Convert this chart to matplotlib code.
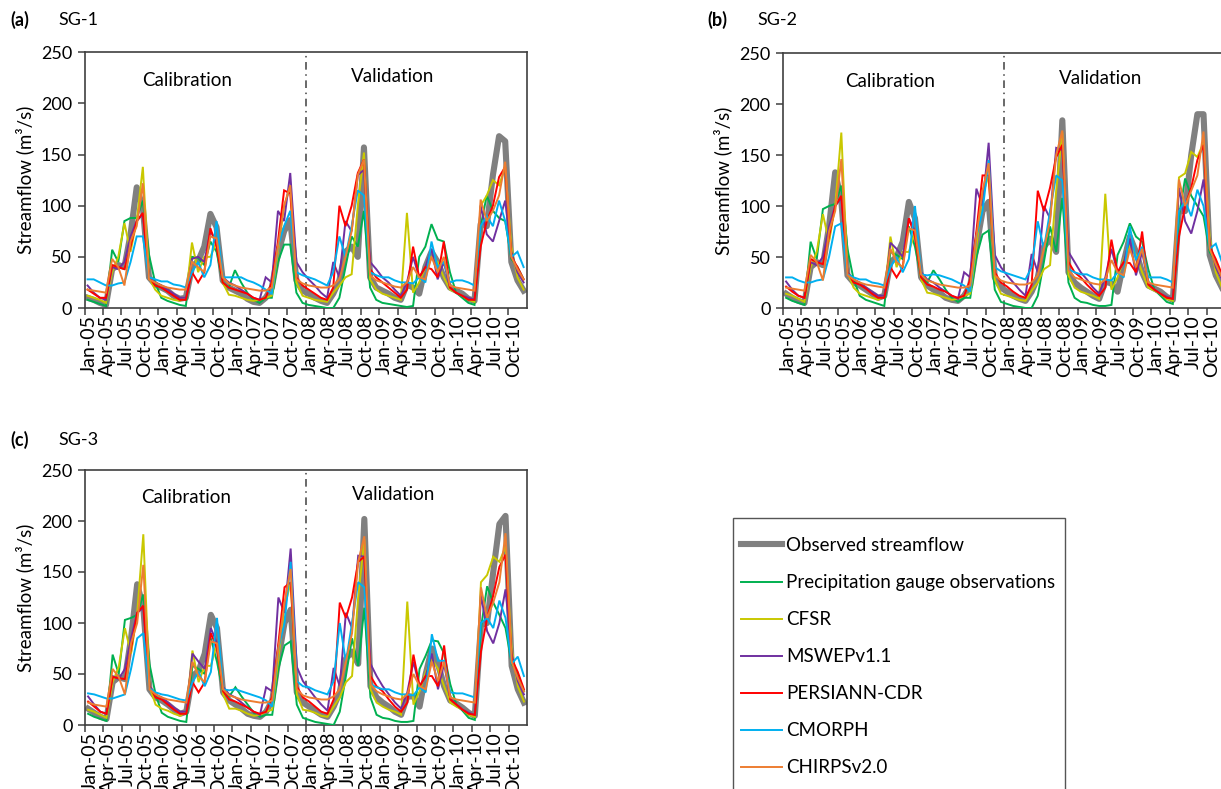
import matplotlib
matplotlib.use("Agg")
import matplotlib.pyplot as plt
from matplotlib.patches import Rectangle
import numpy as np

plt.rcParams['font.family'] = ['Lato', 'DejaVu Sans']

W, H = 1221, 789

months = ['Jan', 'Feb', 'Mar', 'Apr', 'May', 'Jun', 'Jul', 'Aug', 'Sep', 'Oct', 'Nov', 'Dec']
years = ['05', '06', '07', '08', '09', '10']
dates = [f"{m}-{y}" for y in years for m in months]

series_names = ['Observed streamflow', 'Precipitation gauge observations', 'CFSR',
                'MSWEPv1.1', 'PERSIANN-CDR', 'CMORPH', 'CHIRPSv2.0']

# ---------------- SG-1 ----------------
sg1_obs = [10, 8, 5, 3, 38, 42, 40, 72, 118, 98, 30, 23,
           20, 17, 12, 9, 10, 40, 46, 60, 92, 79, 27, 20,
           17, 14, 9, 6, 5, 10, 20, 53, 75, 86, 27, 17,
           14, 10, 7, 5, 14, 27, 55, 60, 50, 157, 30, 20,
           17, 14, 10, 8, 23, 20, 14, 40, 55, 45, 30, 20,
           17, 14, 9, 7, 82, 80, 130, 168, 163, 45, 27, 17]
sg1_gauge = [8, 6, 4, 2, 57, 45, 85, 88, 88, 105, 52, 25,
             10, 7, 5, 3, 2, 50, 49, 42, 65, 55, 25, 20,
             37, 25, 15, 8, 5, 10, 10, 45, 62, 62, 15, 5,
             3, 2, 1, 0, 0, 10, 40, 70, 60, 95, 20, 8,
             5, 4, 3, 2, 1, 2, 50, 60, 82, 67, 65, 35,
             15, 10, 5, 3, 80, 110, 95, 88, 85, 48, 40, 28]
sg1_cfsr = [12, 10, 8, 5, 35, 50, 83, 55, 85, 138, 30, 18,
            12, 10, 8, 7, 10, 64, 35, 50, 50, 65, 25, 13,
            12, 10, 8, 7, 8, 10, 12, 55, 100, 118, 25, 12,
            10, 8, 7, 6, 15, 22, 30, 33, 100, 152, 28, 18,
            14, 12, 10, 8, 93, 15, 25, 40, 50, 45, 30, 18,
            15, 12, 8, 6, 100, 110, 125, 120, 138, 60, 30, 18]
sg1_mswep = [22, 15, 10, 8, 40, 38, 45, 70, 85, 92, 30, 25,
             22, 18, 14, 10, 10, 48, 50, 45, 75, 65, 30, 25,
             22, 18, 14, 10, 8, 30, 25, 95, 85, 132, 45, 35,
             28, 22, 15, 10, 45, 30, 85, 75, 130, 135, 45, 38,
             30, 25, 18, 12, 25, 50, 30, 40, 58, 28, 45, 20,
             15, 12, 10, 8, 100, 72, 65, 85, 105, 55, 35, 25]
sg1_persiann = [18, 14, 10, 10, 42, 40, 38, 60, 85, 93, 30, 22,
                20, 16, 12, 8, 8, 35, 25, 35, 78, 60, 25, 20,
                18, 16, 14, 10, 8, 10, 25, 65, 115, 112, 30, 22,
                18, 14, 10, 8, 20, 100, 80, 100, 132, 145, 38, 30,
                25, 20, 15, 10, 18, 60, 30, 40, 38, 30, 65, 20,
                15, 12, 8, 8, 60, 85, 100, 128, 138, 50, 40, 28]
sg1_cmorph = [28, 28, 25, 22, 22, 24, 25, 45, 70, 70, 30, 28,
              26, 26, 23, 22, 20, 35, 45, 30, 42, 85, 30, 30,
              30, 30, 27, 25, 22, 18, 14, 60, 80, 95, 35, 32,
              30, 28, 25, 22, 35, 70, 50, 80, 115, 110, 35, 32,
              30, 30, 27, 25, 25, 24, 30, 25, 65, 40, 45, 25,
              27, 27, 25, 22, 80, 90, 80, 105, 85, 50, 55, 40]
sg1_chirps = [18, 17, 16, 15, 48, 40, 22, 65, 80, 122, 28, 25,
              22, 20, 19, 18, 18, 45, 40, 35, 70, 68, 30, 24,
              22, 20, 19, 18, 17, 17, 20, 60, 100, 120, 28, 24,
              22, 21, 20, 20, 22, 28, 50, 75, 130, 145, 32, 27,
              25, 23, 21, 20, 25, 40, 30, 28, 50, 35, 50, 22,
              20, 19, 18, 17, 106, 85, 95, 110, 143, 50, 38, 28]

# ---------------- SG-2 ----------------
sg2_obs = [14, 10, 7, 5, 40, 45, 42, 80, 133, 105, 32, 25,
           22, 18, 14, 10, 12, 45, 50, 65, 104, 88, 30, 22,
           18, 15, 10, 8, 7, 12, 22, 60, 95, 104, 30, 20,
           16, 12, 9, 7, 16, 30, 60, 68, 55, 184, 35, 25,
           20, 16, 12, 9, 26, 24, 16, 45, 70, 55, 35, 22,
           19, 16, 11, 8, 95, 95, 150, 190, 190, 52, 32, 20]
sg2_gauge = [10, 7, 5, 3, 65, 48, 97, 100, 102, 120, 58, 28,
             12, 8, 6, 4, 2, 55, 52, 48, 80, 60, 30, 25,
             37, 28, 18, 10, 6, 10, 10, 50, 72, 76, 18, 6,
             4, 2, 1, 0, 0, 12, 45, 80, 55, 108, 25, 10,
             6, 5, 3, 2, 2, 3, 52, 65, 83, 70, 65, 38,
             18, 12, 6, 4, 90, 127, 110, 100, 90, 55, 45, 30]
sg2_cfsr = [14, 12, 9, 6, 40, 55, 92, 65, 100, 172, 35, 20,
            14, 12, 10, 8, 12, 70, 40, 55, 55, 75, 28, 15,
            14, 12, 10, 8, 9, 12, 14, 60, 110, 130, 28, 14,
            12, 10, 8, 7, 17, 25, 38, 42, 115, 172, 32, 20,
            16, 14, 12, 9, 112, 18, 30, 48, 60, 52, 35, 20,
            17, 14, 9, 7, 128, 132, 153, 148, 162, 70, 35, 20]
sg2_mswep = [26, 18, 12, 10, 45, 42, 50, 80, 100, 108, 35, 28,
             25, 20, 16, 12, 12, 64, 58, 50, 88, 75, 35, 28,
             25, 20, 16, 12, 9, 35, 30, 117, 100, 162, 52, 40,
             32, 25, 18, 12, 53, 35, 100, 88, 157, 155, 55, 45,
             35, 28, 20, 14, 30, 58, 35, 45, 68, 32, 55, 24,
             18, 14, 11, 9, 118, 85, 73, 95, 126, 65, 40, 28]
sg2_persiann = [21, 16, 12, 10, 48, 45, 43, 70, 100, 110, 35, 25,
                23, 19, 14, 10, 10, 40, 30, 40, 88, 70, 30, 23,
                21, 18, 16, 12, 10, 12, 28, 75, 130, 130, 35, 25,
                21, 16, 12, 10, 23, 115, 95, 118, 148, 160, 45, 35,
                30, 23, 17, 12, 20, 67, 35, 45, 44, 35, 75, 23,
                18, 14, 10, 9, 70, 100, 118, 145, 160, 60, 48, 33]
sg2_cmorph = [30, 30, 27, 25, 25, 27, 28, 50, 80, 83, 33, 30,
              28, 28, 25, 24, 22, 40, 50, 35, 48, 100, 33, 32,
              33, 32, 30, 28, 25, 22, 16, 70, 95, 145, 40, 36,
              34, 32, 30, 28, 40, 85, 58, 95, 130, 125, 38, 35,
              33, 33, 30, 28, 28, 27, 35, 30, 80, 47, 60, 30,
              30, 30, 28, 25, 95, 105, 90, 116, 100, 58, 63, 45]
sg2_chirps = [20, 19, 18, 17, 52, 45, 27, 75, 95, 146, 32, 28,
              25, 23, 22, 21, 20, 58, 45, 40, 78, 76, 33, 27,
              25, 23, 22, 21, 20, 20, 22, 70, 115, 142, 32, 27,
              25, 24, 23, 23, 25, 32, 58, 85, 150, 174, 37, 30,
              28, 26, 24, 23, 28, 47, 35, 32, 58, 40, 58, 25,
              23, 22, 21, 20, 126, 100, 115, 130, 173, 58, 43, 30]

# ---------------- SG-3 ----------------
sg3_obs = [16, 12, 8, 6, 42, 47, 45, 85, 138, 115, 35, 27,
           24, 20, 15, 11, 13, 48, 53, 70, 108, 95, 32, 24,
           20, 16, 11, 9, 8, 13, 24, 65, 100, 113, 32, 22,
           18, 14, 10, 8, 18, 32, 65, 72, 60, 202, 38, 27,
           22, 18, 13, 10, 28, 28, 18, 50, 75, 60, 38, 24,
           21, 17, 12, 9, 98, 100, 150, 197, 205, 58, 35, 22]
sg3_gauge = [11, 8, 6, 4, 69, 50, 103, 105, 108, 128, 60, 30,
             12, 8, 6, 4, 3, 58, 55, 50, 85, 62, 32, 28,
             37, 28, 20, 12, 8, 10, 10, 55, 78, 82, 20, 7,
             5, 3, 2, 1, 0, 13, 48, 85, 58, 115, 27, 10,
             7, 6, 4, 3, 3, 4, 55, 68, 83, 82, 70, 40,
             20, 14, 7, 5, 95, 136, 120, 108, 95, 60, 50, 33]
sg3_cfsr = [15, 13, 10, 7, 42, 57, 95, 70, 110, 187, 38, 20,
            16, 14, 11, 9, 13, 73, 42, 58, 58, 80, 30, 16,
            16, 14, 11, 9, 10, 13, 15, 65, 115, 140, 30, 15,
            14, 12, 9, 8, 18, 27, 42, 48, 125, 182, 35, 22,
            18, 15, 13, 10, 121, 20, 33, 52, 65, 55, 38, 22,
            18, 15, 10, 8, 140, 147, 165, 160, 175, 75, 38, 23]
sg3_mswep = [28, 20, 13, 11, 48, 45, 55, 85, 110, 115, 38, 30,
             27, 22, 17, 13, 13, 70, 62, 55, 95, 80, 37, 30,
             27, 22, 17, 13, 10, 37, 33, 125, 110, 173, 57, 43,
             35, 27, 20, 14, 56, 38, 110, 95, 166, 165, 60, 48,
             38, 30, 22, 16, 32, 62, 38, 48, 70, 35, 60, 26,
             20, 15, 12, 10, 128, 92, 80, 100, 133, 70, 43, 30]
sg3_persiann = [23, 18, 13, 11, 47, 46, 45, 75, 110, 117, 38, 27,
                25, 20, 15, 11, 11, 42, 32, 42, 90, 75, 33, 25,
                23, 20, 17, 13, 11, 13, 28, 80, 135, 140, 38, 27,
                23, 18, 13, 11, 25, 120, 105, 125, 160, 165, 48, 38,
                33, 25, 18, 13, 22, 69, 38, 48, 48, 38, 78, 25,
                20, 15, 11, 10, 72, 105, 127, 155, 167, 65, 52, 35]
sg3_cmorph = [31, 30, 28, 26, 26, 28, 30, 55, 85, 90, 36, 32,
              30, 29, 27, 25, 24, 42, 52, 38, 52, 105, 35, 34,
              35, 33, 31, 29, 27, 24, 18, 75, 100, 160, 43, 38,
              37, 34, 32, 30, 43, 100, 62, 100, 140, 135, 40, 37,
              35, 35, 32, 30, 30, 29, 37, 32, 89, 63, 63, 32,
              31, 31, 29, 27, 100, 105, 95, 122, 105, 60, 67, 48]
sg3_chirps = [22, 20, 19, 18, 55, 47, 30, 80, 100, 157, 35, 30,
              27, 25, 24, 23, 22, 62, 48, 42, 82, 80, 35, 29,
              27, 25, 24, 23, 22, 22, 24, 75, 120, 153, 35, 29,
              27, 26, 25, 25, 28, 35, 62, 90, 160, 185, 40, 33,
              30, 28, 26, 25, 30, 50, 38, 35, 62, 43, 62, 27,
              25, 24, 23, 22, 135, 105, 120, 140, 188, 62, 46, 33]

panels = [
    ('(a)', 'SG-1', [sg1_obs, sg1_gauge, sg1_cfsr, sg1_mswep, sg1_persiann, sg1_cmorph, sg1_chirps]),
    ('(b)', 'SG-2', [sg2_obs, sg2_gauge, sg2_cfsr, sg2_mswep, sg2_persiann, sg2_cmorph, sg2_chirps]),
    ('(c)', 'SG-3', [sg3_obs, sg3_gauge, sg3_cfsr, sg3_mswep, sg3_persiann, sg3_cmorph, sg3_chirps]),
]

colors = ['#808080', '#00B050', '#C9C800', '#7030A0', '#FF0000', '#00B0F0', '#ED7D31']
widths = [4.4, 1.4, 1.4, 1.4, 1.4, 1.4, 1.4]

# axes boxes in pixels: left, top, right, bottom
boxes = [(84.5, 52.3, 526.7, 308), (783, 53, 1225, 308), (85, 470, 527, 725)]
title_pos = [(10, 20, 58), (707, 20, 757), (10, 440, 58)]
calib_pos = [(16.7, 222, 50.2, 226), (17.4, 222, 51.8, 225), (16.5, 223, 50.2, 226)]

fig = plt.figure(figsize=(W / 100, H / 100), dpi=100)
spine_c = '#3f3f3f'
x = np.arange(len(dates)) + 0.5
handles = []
for k, (tag, name, data) in enumerate(panels):
    l, t, r, b = boxes[k]
    ax = fig.add_axes([l / W, 1 - b / H, (r - l) / W, (b - t) / H])
    for j, s in enumerate(data):
        ln, = ax.plot(x, s, color=colors[j], lw=widths[j],
                      solid_joinstyle='miter' if j else 'round', zorder=2 + j,
                      label=series_names[j])
        if k == 0:
            handles.append(ln)
    ax.set_xlim(0, 72)
    ax.set_ylim(0, 250)
    ax.set_yticks([0, 50, 100, 150, 200, 250])
    ax.set_xticks(np.arange(0, 72, 3))
    ax.set_xticklabels([])
    ax.set_xticks(np.arange(0, 72, 3) + 0.8, minor=True)
    ax.set_xticklabels(dates[::3], minor=True, rotation=90)
    ax.tick_params(axis='x', which='minor', length=0, pad=5, labelsize=14)
    ax.tick_params(axis='x', which='major', length=5, width=1.1, color=spine_c)
    ax.tick_params(axis='y', length=5, width=1.1, color=spine_c, labelsize=13, pad=4)
    for sp in ax.spines.values():
        sp.set_color(spine_c)
        sp.set_linewidth(1.2)
    ax.set_ylabel('Streamflow (m³/s)', fontsize=13.5, labelpad=5)
    ax.axvline(36, color='#404040', lw=1.1, ls=(0, (5, 3, 1, 3)), zorder=1)
    cx1, cy1, cx2, cy2 = calib_pos[k]
    ax.text(cx1, cy1, 'Calibration', ha='center', va='center', fontsize=13.5)
    ax.text(cx2, cy2, 'Validation', ha='center', va='center', fontsize=13.5)
    tx, ty, sx = title_pos[k]
    fig.text(tx / W, 1 - ty / H, tag, fontsize=13, fontweight='bold', va='center')
    fig.text(sx / W, 1 - ty / H, name, fontsize=13, va='center')

# legend frame (extends past the bottom edge, as in the reference)
fig.patches.append(Rectangle((733 / W, 1 - 800 / H), (1065 - 733) / W, (800 - 518) / H,
                             transform=fig.transFigure, fill=False,
                             edgecolor='#555555', lw=1.0))
leg = fig.legend(handles, series_names, loc='upper left',
                 bbox_to_anchor=(741 / W, 1 - 537 / H), fontsize=13.5,
                 frameon=False, handlelength=2.2, handletextpad=0.2,
                 labelspacing=1.07, borderpad=0, borderaxespad=0)

fig.savefig('out.png', dpi=100)
